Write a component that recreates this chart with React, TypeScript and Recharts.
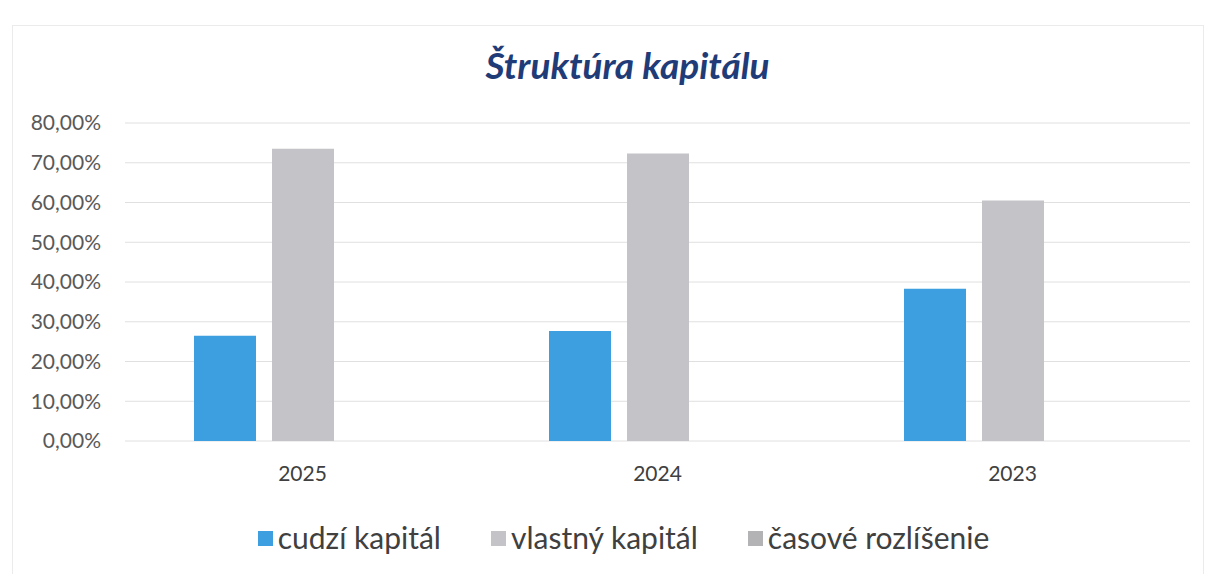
import React from 'react'
import {
  BarChart,
  XAxis,
  YAxis,
  Bar,
  CartesianGrid
} from 'recharts'

const years = ['2025', '2024', '2023']
const cudziKapital = [26.5, 27.7, 38.3]
const vlastnyKapital = [73.5, 72.3, 60.5]
const casoveRozlisenie = [0, 0, 0]
const yTicks = [0, 10, 20, 30, 40, 50, 60, 70, 80]

const seriesNames = ['cudzí kapitál', 'vlastný kapitál', 'časové rozlíšenie']
const seriesColors = ['#3d9fe0', '#c4c3c8', '#b3b3b6']

const data = years.map((year, i) => ({
  year,
  cudzi: cudziKapital[i],
  vlastny: vlastnyKapital[i],
  casove: casoveRozlisenie[i]
}))

const font = 'Lato, "Open Sans", sans-serif'

const formatPct = (v: number) => `${v.toFixed(2).replace('.', ',')}%`

// legend drawn outside the chart so it doesn't shrink the plot area
const ChartLegend = () => (
  <div
    style={{
      position: 'absolute',
      left: 0,
      width: 1209,
      top: 519,
      display: 'flex',
      justifyContent: 'center',
      gap: 50,
      fontFamily: font,
      fontSize: 30,
      lineHeight: '36px',
      color: '#404040',
      paddingLeft: 38,
      boxSizing: 'border-box'
    }}
  >
    {seriesNames.map((name, i) => (
      <div key={name} style={{ display: 'flex', alignItems: 'center' }}>
        <span
          style={{
            display: 'inline-block',
            width: 15,
            height: 15,
            background: seriesColors[i],
            marginRight: 5,
            marginTop: 2
          }}
        />
        <span>{name}</span>
      </div>
    ))}
  </div>
)

const App: React.FC = () => {
  // XAxis adds its own 30px height below the bottom margin
  const margin = {
    top: 123,
    right: 19,
    bottom: 103,
    left: 0
  }

  return (
    <div style={{ position: 'absolute', left: 0, top: 0, width: 1209, height: 574, background: '#fff', overflow: 'hidden' }}>
      <div
        style={{
          position: 'absolute',
          left: 12,
          top: 25,
          width: 1190,
          height: 560,
          border: '1px solid #ebebeb'
        }}
      />
      <div
        style={{
          position: 'absolute',
          left: 0,
          width: 1209,
          top: 42,
          textAlign: 'center',
          fontFamily: font,
          fontSize: 37,
          lineHeight: '46px',
          fontWeight: 'bold',
          fontStyle: 'italic',
          color: '#1f3c78',
          paddingLeft: 46,
          boxSizing: 'border-box'
        }}
      >
        Štruktúra kapitálu
      </div>
      <BarChart
        width={1209}
        height={574}
        margin={margin}
        data={data}
        barSize={62}
        barGap={16}
        style={{ position: 'absolute', left: 0, top: 0 }}
      >
        <CartesianGrid vertical={false} stroke="#e0e0e0" />
        <XAxis
          dataKey="year"
          axisLine={false}
          tickLine={false}
          tickMargin={19}
          tick={{ fill: '#404040', fontSize: 21, fontFamily: font }}
        />
        <YAxis
          width={125}
          domain={[0, 80]}
          ticks={yTicks}
          axisLine={false}
          tickLine={false}
          tickMargin={18}
          tickFormatter={formatPct}
          tick={{ fill: '#595959', fontSize: 21, fontFamily: font }}
        />
        <Bar dataKey="cudzi" name={seriesNames[0]} fill={seriesColors[0]} isAnimationActive={false} />
        <Bar dataKey="vlastny" name={seriesNames[1]} fill={seriesColors[1]} isAnimationActive={false} />
        <Bar dataKey="casove" name={seriesNames[2]} fill={seriesColors[2]} isAnimationActive={false} />
      </BarChart>
      <ChartLegend />
    </div>
  )
}

export default App
